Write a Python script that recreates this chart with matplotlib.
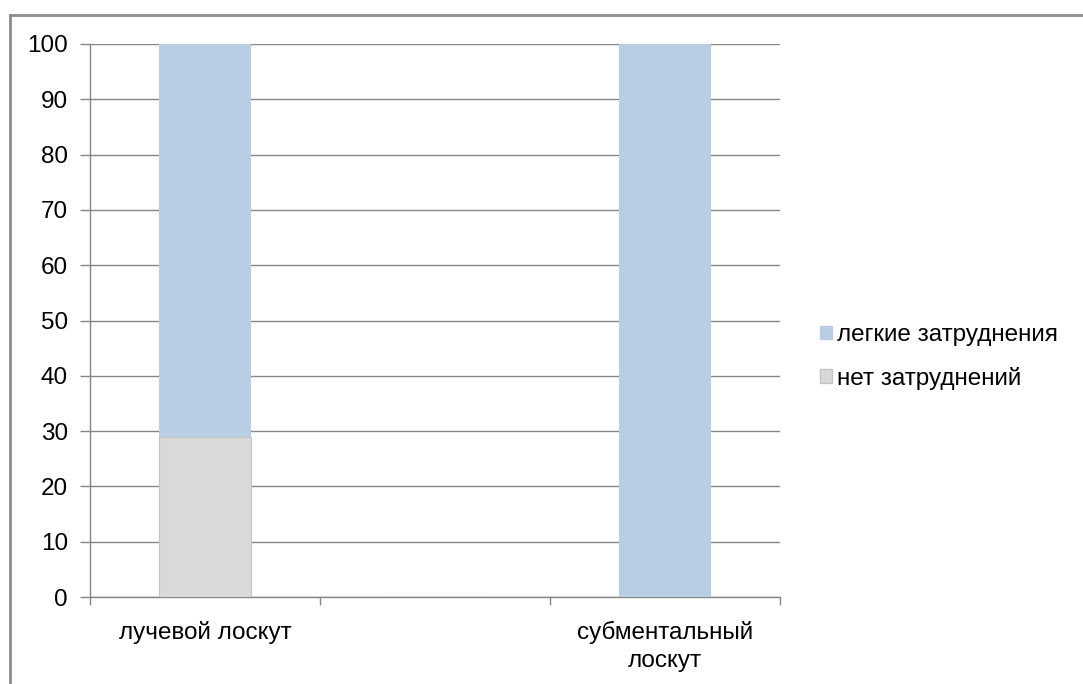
import matplotlib
matplotlib.use("Agg")
import matplotlib.pyplot as plt
from matplotlib.lines import Line2D
from matplotlib.patches import Patch

plt.rcParams['font.family'] = ['Liberation Sans', 'DejaVu Sans']

categories = ["лучевой лоскут", "", "субментальный\nлоскут"]
no_difficulty = [29, 0, 0]
mild_difficulty = [71, 0, 100]
series_labels = ["легкие затруднения", "нет затруднений"]
yticks = list(range(0, 101, 10))

blue = "#B9CDE5"
grey = "#D9D9D9"
axis_grey = "#868686"
fs = 17.5

fig = plt.figure(figsize=(10.83, 6.84), dpi=100)
ax = fig.add_axes([90 / 1083, 1 - 597 / 684, 690 / 1083, 553 / 684])

x = list(range(len(categories)))
w = 0.396
ax.bar(x, no_difficulty, width=w, color=grey, edgecolor="#C4C4C4", linewidth=0.8, zorder=3)
ax.bar(x, mild_difficulty, bottom=no_difficulty, width=w, color=blue, linewidth=0, zorder=3)

ax.set_xlim(-0.5, len(categories) - 0.5)
ax.set_ylim(0, 100)
ax.set_yticks(yticks)
ax.yaxis.grid(True, color=axis_grey, linewidth=1.0, zorder=0)
ax.set_axisbelow(True)

ax.set_xticks(x)
ax.set_xticklabels(categories, fontsize=fs, linespacing=1.35)
ax.set_xticks([i - 0.5 for i in range(len(categories) + 1)], minor=True)
ax.tick_params(axis='x', which='major', length=0, pad=17)
ax.tick_params(axis='x', which='minor', length=6, color=axis_grey, width=1.0)
ax.tick_params(axis='y', length=7, color=axis_grey, width=1.0, labelsize=fs, pad=9)

for side in ("top", "right"):
    ax.spines[side].set_visible(False)
for side in ("left", "bottom"):
    ax.spines[side].set_color(axis_grey)
    ax.spines[side].set_linewidth(1.0)

handles = [Patch(facecolor=blue, edgecolor=blue),
           Patch(facecolor=grey, edgecolor="#C4C4C4")]
fig.legend(handles, series_labels, loc="center left",
           bbox_to_anchor=(803 / 1083, 1 - 357 / 684), frameon=False,
           fontsize=fs, handlelength=0.5, handleheight=0.5,
           handletextpad=0.18, labelspacing=0.85, borderpad=0.2)

# outer chart frame
fx = 9.5 / 1083
fy = 1 - 14.5 / 684
fig.add_artist(Line2D([fx, fx], [0, fy], transform=fig.transFigure, color="#8C8C8C", linewidth=2))
fig.add_artist(Line2D([fx, 1], [fy, fy], transform=fig.transFigure, color="#8C8C8C", linewidth=2))

fig.savefig("out.png", dpi=100)
